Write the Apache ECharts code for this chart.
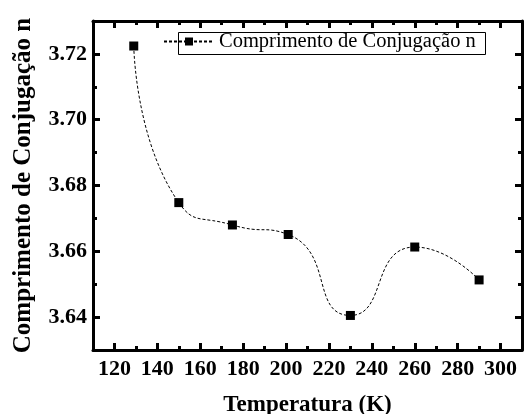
<!DOCTYPE html>
<html>
<head>
<meta charset="utf-8">
<script src="https://cdn.jsdelivr.net/npm/echarts@6/dist/echarts.min.js"></script>
<style>
html,body{margin:0;padding:0;background:#fff;}
#chart{width:529px;height:414px;}
</style>
</head>
<body>
<div id="chart"></div>
<script>
// ---- data ----
const temperatures = [129, 150, 175, 201, 230, 260, 290];
const conjugationLength = [3.7224, 3.6748, 3.6680, 3.6651, 3.6405, 3.6613, 3.6513];
const seriesName = 'Comprimento de Conjugação n';
const xTitle = 'Temperatura (K)';
const yTitle = 'Comprimento de Conjugação n';
const xMajorTicks = [120, 140, 160, 180, 200, 220, 240, 260, 280, 300];
const xMinorTicks = [130, 150, 170, 190, 210, 230, 250, 270, 290];
const yMajorTicks = [3.64, 3.66, 3.68, 3.70, 3.72];
const yMinorTicks = [3.65, 3.67, 3.69, 3.71];
const xRange = [110, 310];
const yRange = [3.63, 3.73];

const FONT = '"Liberation Serif", "Times New Roman", serif';
const chart = echarts.init(document.getElementById('chart'), null, {renderer: 'canvas'});

function xAx(pos, ticks, len, showLine, showLabel, extra) {
  return Object.assign({
    type: 'value', position: pos, min: xRange[0], max: xRange[1],
    axisLine: {show: showLine, onZero: false, lineStyle: {color: '#000', width: 3}},
    axisTick: {show: true, inside: true, length: len, customValues: ticks, lineStyle: {color: '#000', width: 3}},
    axisLabel: showLabel ? {
      show: true, customValues: ticks, margin: 8,
      fontFamily: FONT, fontWeight: 'bold', fontSize: 22, color: '#000'
    } : {show: false},
    splitLine: {show: false}
  }, extra || {});
}
function yAx(pos, ticks, len, showLine, showLabel, extra) {
  return Object.assign({
    type: 'value', position: pos, min: yRange[0], max: yRange[1],
    axisLine: {show: showLine, onZero: false, lineStyle: {color: '#000', width: 3}},
    axisTick: {show: true, inside: true, length: len, customValues: ticks, lineStyle: {color: '#000', width: 3}},
    axisLabel: showLabel ? {
      show: true, customValues: ticks, margin: 6,
      formatter: v => v.toFixed(2),
      fontFamily: FONT, fontWeight: 'bold', fontSize: 22, color: '#000'
    } : {show: false},
    splitLine: {show: false}
  }, extra || {});
}

const option = {
  backgroundColor: '#fff',
  animation: false,
  grid: {left: 93, right: 7, top: 21, bottom: 64, containLabel: false, outerBoundsMode: 'none'},
  xAxis: [
    xAx('bottom', xMajorTicks, 7, true, true, {
      name: xTitle, nameLocation: 'middle', nameGap: 44,
      nameTextStyle: {fontFamily: FONT, fontWeight: 'bold', fontSize: 23, color: '#000'}
    }),
    xAx('bottom', xMinorTicks, 4, false, false),
    xAx('top', xMajorTicks, 7, true, false),
    xAx('top', xMinorTicks, 4, false, false)
  ],
  yAxis: [
    yAx('left', yMajorTicks, 7, true, true, {
      name: yTitle, nameLocation: 'middle', nameGap: 57,
      nameTextStyle: {fontFamily: FONT, fontWeight: 'bold', fontSize: 25, color: '#000'}
    }),
    yAx('left', yMinorTicks, 4, false, false),
    yAx('right', yMajorTicks, 7, true, false),
    yAx('right', yMinorTicks, 4, false, false)
  ],
  legend: {
    left: 163, top: 31, padding: 0,
    itemWidth: 50, itemHeight: 10,
    textStyle: {fontFamily: FONT, fontSize: 20.5, color: '#000'},
    data: [seriesName]
  },
  graphic: [{
    type: 'rect', left: 176, top: 30, z: 0,
    shape: {width: 307, height: 22},
    style: {fill: 'none', stroke: '#000', lineWidth: 1}
  }],
  series: [{
    name: seriesName,
    type: 'line',
    xAxisIndex: 0, yAxisIndex: 0,
    data: temperatures.map((t, i) => [t, conjugationLength[i]]),
    smooth: 0.6,
    symbol: 'rect', symbolSize: 9,
    itemStyle: {color: '#000'},
    lineStyle: {color: '#000', width: 1, type: [3, 2]}
  }]
};
chart.setOption(option);
</script>
</body>
</html>
